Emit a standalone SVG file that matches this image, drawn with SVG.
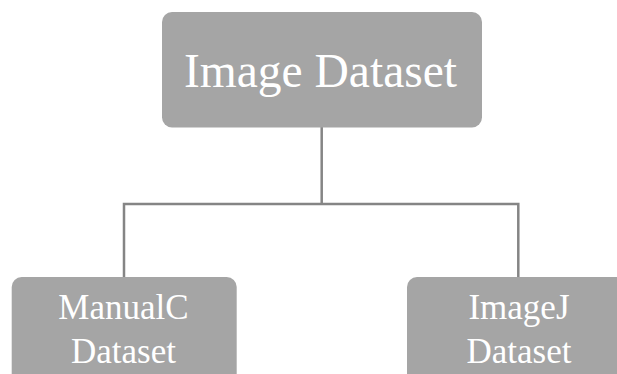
<svg xmlns="http://www.w3.org/2000/svg" width="617" height="374" viewBox="0 0 617 374">
<style>
.box{fill:#a5a5a5;}
.t{font-family:"Liberation Serif","Times New Roman",serif;fill:#ffffff;text-anchor:middle;}
.c{stroke:#858585;stroke-width:2.5;fill:none;}
</style>
<rect width="617" height="374" fill="#ffffff"/>
<g id="connectors">
<path class="c" d="M321.7 127 V204 M124 278 V204 H518.3 V278"/>
</g>
<g id="image-dataset">
<rect class="box" x="162" y="12" width="320" height="115.5" rx="10"/>
<text class="t" x="320.5" y="87" font-size="47.5">Image Dataset</text>
</g>
<g id="manualc-dataset">
<rect class="box" x="11.7" y="277" width="225" height="110" rx="10"/>
<text class="t" x="123.5" y="318.5" font-size="35">ManualC</text>
<text class="t" x="123.5" y="363.3" font-size="35">Dataset</text>
</g>
<g id="imagej-dataset">
<rect class="box" x="407" y="277" width="225" height="110" rx="10"/>
<text class="t" x="519" y="318.5" font-size="35">ImageJ</text>
<text class="t" x="519" y="363.3" font-size="35">Dataset</text>
</g>
</svg>
